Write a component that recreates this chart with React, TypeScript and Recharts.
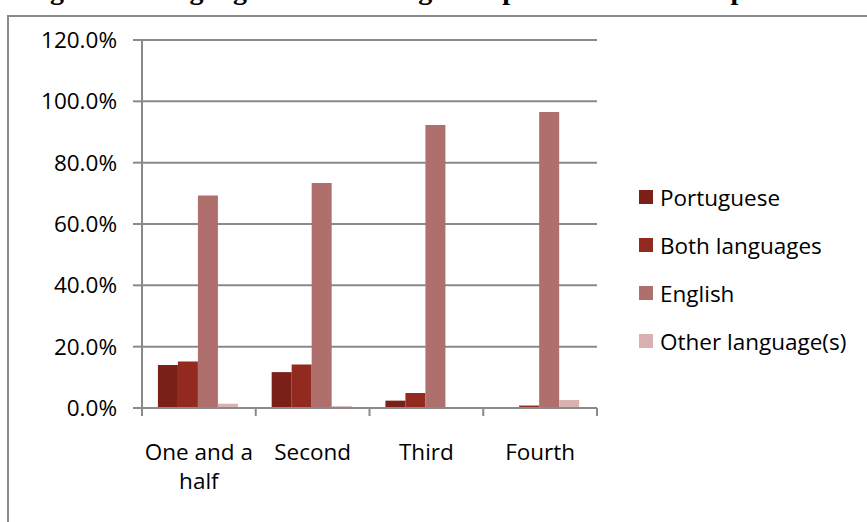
import { BarChart, Bar, XAxis, YAxis, CartesianGrid, Legend } from "recharts"

const categories = ["One and a half", "Second", "Third", "Fourth"]
const portuguese = [14.0, 11.7, 2.4, 0]
const bothLanguages = [15.2, 14.2, 4.9, 0.8]
const english = [69.3, 73.4, 92.3, 96.5]
const otherLanguages = [1.4, 0.6, 0, 2.6]
const yTicks = [0, 20, 40, 60, 80, 100, 120]

const series = [
  { key: "portuguese", name: "Portuguese", color: "#7a2018" },
  { key: "both", name: "Both languages", color: "#922a1f" },
  { key: "english", name: "English", color: "#af706d" },
  { key: "other", name: "Other language(s)", color: "#d9b1b0" },
]

const data = categories.map((c, i) => ({
  name: c,
  portuguese: portuguese[i],
  both: bothLanguages[i],
  english: english[i],
  other: otherLanguages[i],
}))

const W = 867
const H = 522
const margin = { top: 40, right: 270, bottom: 34, left: 0 }
const yAxisWidth = 142
const band = (W - margin.left - margin.right - yAxisWidth) / categories.length
const FONT = "'Open Sans', Lato, sans-serif"
const FS = 22.5
const GRID = "#8a8a8a"

// greedy word wrap by character count, good enough for short category names
function wrapLabel(label: string, maxChars: number) {
  const lines: string[] = []
  let cur = ""
  for (const w of label.split(" ")) {
    const next = cur ? cur + " " + w : w
    if (next.length > maxChars && cur) {
      lines.push(cur)
      cur = w
    } else {
      cur = next
    }
  }
  if (cur) lines.push(cur)
  return lines
}

function CategoryTick(props: any) {
  const { x, y, payload, index } = props
  const last = index === categories.length - 1
  const lines = wrapLabel(String(payload.value), 9)
  return (
    <g>
      <line x1={x - band / 2} x2={x - band / 2} y1={y} y2={y + 8} stroke={GRID} strokeWidth={2} />
      {last && <line x1={x + band / 2} x2={x + band / 2} y1={y} y2={y + 8} stroke={GRID} strokeWidth={2} />}
      <text x={x} y={y + 52} textAnchor="middle" fontSize={FS} fontFamily={FONT} fill="#000">
        {lines.map((l, i) => (
          <tspan key={i} x={x} dy={i === 0 ? 0 : 29}>
            {l}
          </tspan>
        ))}
      </text>
    </g>
  )
}

function LegendBox() {
  return (
    <div style={{ fontFamily: FONT, fontSize: FS, color: "#000" }}>
      {series.map((s) => (
        <div key={s.key} style={{ display: "flex", alignItems: "center", height: 48 }}>
          <span style={{ width: 14, height: 14, background: s.color, marginRight: 7, display: "inline-block" }} />
          <span>{s.name}</span>
        </div>
      ))}
    </div>
  )
}

export default function App() {
  return (
    <div style={{ position: "fixed", left: 0, top: 0, width: W, height: H, overflow: "hidden", background: "#fff" }}>
      {/* caption of the page above, only its descenders fall inside the crop */}
      <svg width={W} height={20} style={{ position: "absolute", left: 0, top: 0 }}>
        <text x={25} y={-1} fontFamily="'Liberation Serif', serif" fontWeight="bold" fontSize={28} fill="#000">
          Figure 4: Language of the reading texts per semester – compreensão
        </text>
      </svg>
      <div
        style={{
          position: "absolute",
          left: 7,
          top: 15,
          width: 900,
          height: 600,
          border: `2px solid ${GRID}`,
          boxSizing: "border-box",
        }}
      />
      <div style={{ position: "absolute", left: 0, top: 0 }}>
        <BarChart width={W} height={H} data={data} margin={margin} barCategoryGap="14%" barGap={0}>
          <CartesianGrid horizontal vertical={false} stroke={GRID} strokeWidth={2} />
          <XAxis
            dataKey="name"
            height={80}
            axisLine={{ stroke: GRID, strokeWidth: 2 }}
            tickLine={false}
            tickSize={0}
            tickMargin={0}
            interval={0}
            tick={<CategoryTick />}
          />
          <YAxis
            width={yAxisWidth}
            domain={[0, 120]}
            ticks={yTicks}
            interval={0}
            tickFormatter={(v: number) => `${v.toFixed(1)}%`}
            axisLine={{ stroke: GRID, strokeWidth: 2 }}
            tickLine={{ stroke: GRID, strokeWidth: 2 }}
            tickSize={9}
            tickMargin={16}
            tick={{ fill: "#000", fontSize: FS, fontFamily: FONT }}
          />
          <Legend
            layout="vertical"
            align="center"
            verticalAlign="middle"
            wrapperStyle={{ left: 639, top: 173, width: 228 }}
            content={() => <LegendBox />}
          />
          {series.map((s) => (
            <Bar key={s.key} dataKey={s.key} name={s.name} fill={s.color} isAnimationActive={false} />
          ))}
        </BarChart>
      </div>
    </div>
  )
}
